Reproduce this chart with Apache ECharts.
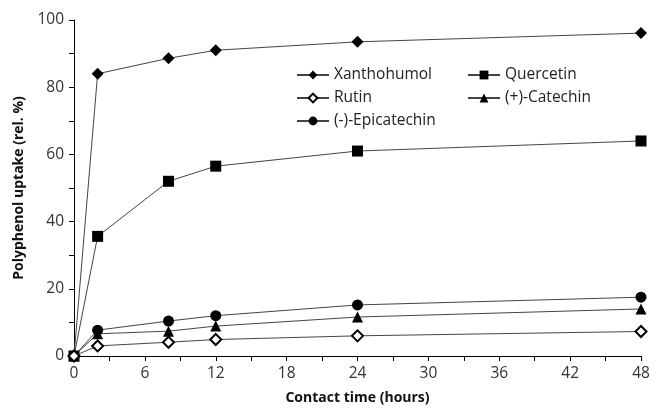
<!DOCTYPE html>
<html>
<head>
<meta charset="utf-8">
<script src="https://cdn.jsdelivr.net/npm/echarts@6/dist/echarts.min.js"></script>
<style>
  html, body { margin: 0; padding: 0; background: #fff; }
  #chart { width: 662px; height: 414px; }
</style>
</head>
<body>
<div id="chart"></div>
<script>
// contact time (hours)
const hours = [0, 2, 8, 12, 24, 48];

// uptake (rel. %)
const xanthohumol = [0, 84, 88.6, 91, 93.5, 96.1];
const quercetin = [0, 35.6, 52, 56.5, 61, 64];
const rutin = [0, 3, 4.1, 4.9, 6, 7.3];
const catechin = [0, 6.6, 7.4, 8.9, 11.6, 14];
const epicatechin = [0, 7.7, 10.4, 12, 15.2, 17.5];

const font = '"Open Sans", "DejaVu Sans", sans-serif';

function pairs(vals) {
    return hours.map((h, i) => [h, vals[i]]);
}

function makeSeries(name, vals, symbol, size, hollow) {
    return {
        name,
        type: 'line',
        data: pairs(vals),
        symbol,
        symbolSize: size,
        showAllSymbol: true,
        z: hollow ? 3 : 2,
        lineStyle: { color: '#444', width: 1 },
        itemStyle: hollow
            ? { color: '#fff', borderColor: '#000', borderWidth: 2 }
            : { color: '#000', borderColor: '#000', borderWidth: 0 },
        emphasis: { disabled: true },
    };
}

const chart = echarts.init(document.getElementById('chart'));

const legendText = { fontFamily: font, fontSize: 15.5, color: '#222' };

chart.setOption({
    animation: false,
    grid: { left: 74, right: 21, top: 20, bottom: 58 },
    legend: [
        {
            data: ['Xanthohumol', 'Rutin', '(-)-Epicatechin'],
            orient: 'vertical',
            left: 291,
            top: 62,
            itemWidth: 32,
            itemHeight: 11,
            itemGap: 7,
            textStyle: legendText,
        },
        {
            data: ['Quercetin', '(+)-Catechin'],
            orient: 'vertical',
            left: 462,
            top: 62,
            itemWidth: 32,
            itemHeight: 11,
            itemGap: 7,
            textStyle: legendText,
        },
    ],
    xAxis: {
        type: 'value',
        min: 0,
        max: 48,
        interval: 6,
        name: 'Contact time (hours)',
        nameLocation: 'middle',
        nameGap: 35,
        nameTextStyle: { fontFamily: font, fontSize: 14, fontWeight: 'bold', color: '#111' },
        axisLine: { lineStyle: { color: '#000', width: 1 } },
        axisTick: { show: true, length: 5, lineStyle: { color: '#000' } },
        minorTick: { show: true, splitNumber: 2, length: 5, lineStyle: { color: '#000' } },
        axisLabel: { fontFamily: font, fontSize: 15.5, color: '#333', margin: 10 },
        splitLine: { show: false },
    },
    yAxis: {
        type: 'value',
        min: 0,
        max: 100,
        interval: 20,
        name: 'Polyphenol uptake (rel. %)',
        nameLocation: 'middle',
        nameGap: 46,
        nameTextStyle: { fontFamily: font, fontSize: 14, fontWeight: 'bold', color: '#111' },
        axisLine: { show: true, lineStyle: { color: '#000', width: 1 } },
        axisTick: { show: true, length: 5, lineStyle: { color: '#000' } },
        minorTick: { show: true, splitNumber: 2, length: 5, lineStyle: { color: '#000' } },
        axisLabel: { fontFamily: font, fontSize: 15.5, color: '#333', margin: 10 },
        splitLine: { show: false },
    },
    series: [
        makeSeries('Xanthohumol', xanthohumol, 'diamond', 12, false),
        makeSeries('Quercetin', quercetin, 'rect', 11, false),
        makeSeries('Rutin', rutin, 'diamond', 11, true),
        makeSeries('(+)-Catechin', catechin, 'triangle', 11, false),
        makeSeries('(-)-Epicatechin', epicatechin, 'circle', 11, false),
    ],
});
</script>
</body>
</html>
